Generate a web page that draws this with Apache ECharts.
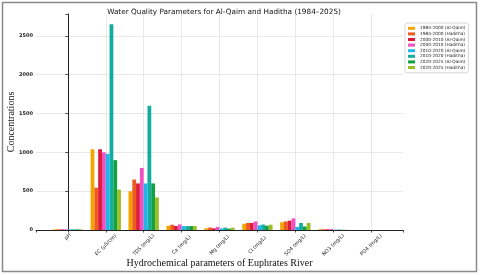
<!DOCTYPE html>
<html><head><meta charset="utf-8">
<script src="https://cdn.jsdelivr.net/npm/echarts@6/dist/echarts.min.js"></script>
<style>html,body{margin:0;padding:0;background:#fff}#c{width:480px;height:275px}</style>
</head><body><div id="c"></div>
<script>
const categories = ['pH','EC (µS/cm)','TDS (mg/L)','Ca (mg/L)','Mg (mg/L)','Cl (mg/L)','SO4 (mg/L)','NO3 (mg/L)','PO4 (mg/L)'];
const seriesNames = ['1984-2000 (Al-Qaim)','1984-2000 (Haditha)','2000-2010 (Al-Qaim)','2000-2010 (Haditha)','2010-2020 (Al-Qaim)','2010-2020 (Haditha)','2020-2025 (Al-Qaim)','2020-2025 (Haditha)'];
const colors = ['#f5a300','#ef5a1e','#dd1a3a','#f050c0','#1fb4ee','#12ada0','#12a040','#98c024'];
const aq1984 = [7.8, 1040, 500, 55, 22, 80, 100, 8, 0.5];
const hd1984 = [7.9, 545, 650, 68, 32, 90, 110, 10, 0.4];
const aq2000 = [7.7, 1040, 600, 52, 22, 90, 120, 9, 0.3];
const hd2000 = [7.8, 1000, 800, 72, 40, 110, 150, 12, 0.4];
const aq2010 = [7.6, 980, 600, 50, 20, 60, 40, 3, 0.2];
const hd2010 = [7.9, 2650, 1600, 50, 30, 70, 90, 6, 0.3];
const aq2020 = [7.8, 900, 600, 50, 18, 55, 45, 2, 0.2];
const hd2020 = [7.7, 520, 420, 50, 30, 68, 90, 3, 0.2];
const allSeries = [aq1984, hd1984, aq2000, hd2000, aq2010, hd2010, aq2020, hd2020];
const yTicks = [0, 500, 1000, 1500, 2000, 2500];

const chart = echarts.init(document.getElementById('c'), null, {renderer:'canvas'});
chart.setOption({
  animation:false,
  color: colors,
  title:{text:'Water Quality Parameters for Al-Qaim and Haditha (1984–2025)', left:219, top:4, textAlign:'center',
    textStyle:{fontFamily:'DejaVu Sans', fontSize:7.3, fontWeight:'normal', color:'#111'}},
  grid:{left:36, right:77, top:14, bottom:45, outerBoundsMode:'none', containLabel:false},
  legend:{orient:'vertical', left:405, top:23, itemWidth:7, itemHeight:3, itemGap:1, icon:'rect',
    padding:[3,3,3,3], borderColor:'#ccc', borderWidth:0.8, borderRadius:2,
    textStyle:{fontFamily:'DejaVu Sans', fontSize:4.3, lineHeight:4.6, color:'#222'}, data:seriesNames},
  xAxis:{type:'value', min:-0.84, max:8.84, splitNumber:10,
    name:'Hydrochemical parameters of Euphrates River', nameLocation:'middle', nameGap:28, nameMoveOverlap:false,
    nameTextStyle:{fontFamily:'Liberation Serif', fontSize:10, color:'#111'},
    axisLine:{show:true, lineStyle:{color:'#222', width:1}},
    axisTick:{show:true, length:2.5, lineStyle:{color:'#222', width:0.8}},
    axisLabel:{rotate:45, align:'center', verticalAlign:'middle', fontFamily:'DejaVu Sans', fontSize:5, color:'#222', margin:15,
      rich:{p:{fontFamily:'DejaVu Sans', fontSize:5, color:'#222', padding:[0,0,12,12]}},
      formatter:v=>{const i=Math.round(v); if(!(Math.abs(v-i)<1e-6 && i>=0 && i<categories.length)) return ''; return i===0 ? '{p|'+categories[i]+'}' : categories[i];}},
    splitLine:{show:true, showMinLine:false, showMaxLine:false, lineStyle:{color:'#e2e2e2', width:0.8}}},
  yAxis:{type:'value', min:0, max:2782.5, interval:500,
    name:'Concentrations', nameLocation:'middle', nameGap:20, nameRotate:90, nameMoveOverlap:false,
    nameTextStyle:{fontFamily:'Liberation Serif', fontSize:10, color:'#111'},
    axisLine:{show:true, lineStyle:{color:'#222', width:1}},
    axisTick:{show:true, length:2.5, lineStyle:{color:'#222', width:0.8}},
    axisLabel:{fontFamily:'DejaVu Sans', fontSize:5, fontWeight:'bold', color:'#222', margin:3,
      formatter:v=> yTicks.includes(v) ? String(v) : ''},
    splitLine:{show:true, showMaxLine:false, lineStyle:{color:'#e2e2e2', width:0.8}}},
  graphic:[{type:'rect', shape:{x:2.5, y:2.5, width:474, height:269}, style:{fill:null, stroke:'#8a8a8a', lineWidth:1.5}, silent:true}],
  series: allSeries.map((arr, k)=>({
    name:seriesNames[k], type:'bar', barGap:'0%', barCategoryGap:'20%',
    data: arr.map((v,i)=>[i, v])
  }))
});
</script></body></html>
